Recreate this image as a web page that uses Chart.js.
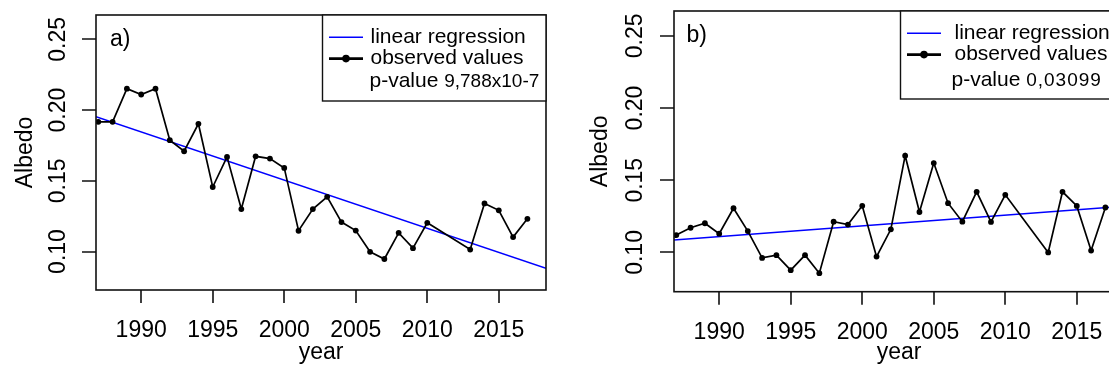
<!DOCTYPE html>
<html>
<head>
<meta charset="utf-8">
<title>Albedo</title>
<script src="https://cdn.jsdelivr.net/npm/chart.js@4.4.0/dist/chart.umd.min.js"></script>
<style>
  html, body { margin: 0; padding: 0; background: #fff; overflow: hidden; width: 1109px; height: 372px; }
  .pannello { position: absolute; top: 0; }
  #pannelloA { left: 0; }
  #pannelloB { left: 578px; }
  canvas { display: block; }
</style>
</head>
<body>
<div class="pannello" id="pannelloA"><canvas id="graficoA" width="560" height="372"></canvas></div>
<div class="pannello" id="pannelloB"><canvas id="graficoB" width="560" height="372"></canvas></div>
<script>
// anni osservati (2011 e 2012 mancano)
var anni = [1987, 1988, 1989, 1990, 1991, 1992, 1993, 1994, 1995, 1996,
  1997, 1998, 1999, 2000, 2001, 2002, 2003, 2004, 2005, 2006,
  2007, 2008, 2009, 2010, 2013, 2014, 2015, 2016, 2017];

var albedoA = [0.1917, 0.1917, 0.2151, 0.2110, 0.2151, 0.1787, 0.1709, 0.1903, 0.1456, 0.1669,
  0.1300, 0.1673, 0.1657, 0.1591, 0.1147, 0.1300, 0.1387, 0.1208, 0.1148, 0.0998,
  0.0947, 0.1132, 0.1024, 0.1203, 0.1014, 0.1340, 0.1291, 0.1102, 0.1231];

var albedoB = [0.1120, 0.1171, 0.1202, 0.1130, 0.1306, 0.1148, 0.0962, 0.0981, 0.0877, 0.0981,
  0.0856, 0.1213, 0.1193, 0.1323, 0.0971, 0.1160, 0.1670, 0.1280, 0.1619, 0.1341,
  0.1213, 0.1420, 0.1211, 0.1399, 0.1000, 0.1420, 0.1322, 0.1013, 0.1311];

// retta di regressione letta agli estremi dell'asse
var anniRegressione = [1986.84, 2018.3];
var regressioneA = [0.1953, 0.0882];
var regressioneB = [0.1086, 0.1320];

var tickAnni = [1990, 1995, 2000, 2005, 2010, 2015];
var tickAlbedo = [0.10, 0.15, 0.20, 0.25];
var limitiAlbedo = [0.0728, 0.2672];

var etichetteLegenda = ['linear regression', 'observed values'];
var etichettaP = 'p-value';
var pValueA = '9,788x10-7';
var pValueB = '0,03099';

var FONT = '"Liberation Sans", Arial, Helvetica, sans-serif';
Chart.defaults.font.family = FONT;
Chart.defaults.color = '#000';

// cornice, tacche, etichette ruotate dell'asse y, lettera del pannello e legenda
var cornice = {
  id: 'cornice',
  afterDraw: function(chart, args, opts) {
    var ctx = chart.ctx;
    var area = chart.chartArea;
    var scalaX = chart.scales.x;
    var scalaY = chart.scales.y;
    ctx.save();
    ctx.strokeStyle = '#111';
    ctx.lineWidth = 1.6;
    ctx.strokeRect(area.left, area.top, area.right - area.left, area.bottom - area.top);

    ctx.beginPath();
    scalaX.ticks.forEach(function(t) {
      var px = Math.round(scalaX.getPixelForValue(t.value));
      ctx.moveTo(px, area.bottom);
      ctx.lineTo(px, area.bottom + 13);
    });
    scalaY.ticks.forEach(function(t) {
      var py = Math.round(scalaY.getPixelForValue(t.value));
      ctx.moveTo(area.left, py);
      ctx.lineTo(area.left - 14, py);
    });
    ctx.stroke();

    ctx.fillStyle = '#000';
    ctx.font = '23px ' + FONT;
    ctx.textAlign = 'center';
    ctx.textBaseline = 'alphabetic';
    scalaY.ticks.forEach(function(t) {
      var py = scalaY.getPixelForValue(t.value);
      ctx.save();
      ctx.translate(opts.xEtichetteY, py);
      ctx.rotate(-Math.PI / 2);
      ctx.fillText(t.value.toFixed(2), 0, 0);
      ctx.restore();
    });

    ctx.textAlign = 'left';
    ctx.fillText(opts.lettera, area.left + opts.letteraX, area.top + 30.5);

    // legenda
    var lx = area.right - 223.5;
    var ly = area.top;
    ctx.fillStyle = '#fff';
    ctx.fillRect(lx, ly, area.right - lx, opts.altezzaLegenda);
    ctx.strokeStyle = '#111';
    ctx.lineWidth = 1.4;
    ctx.strokeRect(lx, ly, area.right - lx, opts.altezzaLegenda);

    ctx.strokeStyle = 'blue';
    ctx.lineWidth = 1.5;
    ctx.beginPath();
    ctx.moveTo(lx + 6.5, ly + 22.3);
    ctx.lineTo(lx + 40.5, ly + 22.3);
    ctx.stroke();

    ctx.strokeStyle = '#000';
    ctx.lineWidth = 2.8;
    ctx.beginPath();
    ctx.moveTo(lx + 6.5, ly + 43.6);
    ctx.lineTo(lx + 40.5, ly + 43.6);
    ctx.stroke();
    ctx.fillStyle = '#000';
    ctx.beginPath();
    ctx.arc(lx + 23.5, ly + 43.6, 3.8, 0, Math.PI * 2);
    ctx.fill();

    ctx.font = '21px ' + FONT;
    ctx.textBaseline = 'middle';
    ctx.fillText(etichetteLegenda[0], lx + opts.testoX, ly + 22.3);
    ctx.fillText(etichetteLegenda[1], lx + opts.testoX, ly + 43.6);

    ctx.textBaseline = 'alphabetic';
    ctx.fillText(etichettaP, lx + opts.pX, ly + opts.pY);
    var largP = ctx.measureText(etichettaP + ' ').width;
    ctx.font = '19px ' + FONT;
    ctx.letterSpacing = opts.spaziatura;
    ctx.fillText(opts.pValue, lx + opts.pX + largP, ly + opts.pY);
    ctx.restore();
  }
};

function getPunti(xs, ys) {
  var punti = [];
  for (var i = 0; i < xs.length; i++) {
    punti.push({x: xs[i], y: ys[i]});
  }
  return punti;
}

function printGrafico(idCanvas, valori, regressione, conf) {
  var ctx = document.getElementById(idCanvas).getContext('2d');
  var chart = new Chart(ctx, {
    type: 'line',
    data: {
      datasets: [{
        label: etichetteLegenda[1],
        data: getPunti(anni, valori),
        borderColor: '#000',
        backgroundColor: '#000',
        borderWidth: 1.7,
        pointRadius: 2.9,
        pointBorderWidth: 0,
        pointBackgroundColor: '#000',
        tension: 0,
        order: 1
      }, {
        label: etichetteLegenda[0],
        data: getPunti(anniRegressione, regressione),
        borderColor: 'blue',
        borderWidth: 1.5,
        pointRadius: 0,
        tension: 0,
        order: 2
      }]
    },
    options: {
      responsive: false,
      animation: false,
      events: [],
      layout: { padding: { left: 0, right: 14, top: conf.top, bottom: 0 } },
      plugins: {
        legend: { display: false },
        tooltip: { enabled: false },
        cornice: conf
      },
      scales: {
        x: {
          type: 'linear',
          min: anniRegressione[0],
          max: anniRegressione[1],
          afterBuildTicks: function(s) {
            s.ticks = tickAnni.map(function(v) { return {value: v}; });
          },
          afterFit: function(s) { s.height = conf.altezzaAsseX; },
          ticks: {
            font: { size: 23 },
            color: '#000',
            padding: 14,
            maxRotation: 0,
            autoSkip: false,
            callback: function(v) { return String(v); }
          },
          grid: { drawOnChartArea: false, drawTicks: true, tickLength: 13, color: 'rgba(0,0,0,0)' },
          border: { display: false },
          title: { display: true, text: 'year', font: { size: 23 }, color: '#000', padding: { top: 0, bottom: 6 } }
        },
        y: {
          min: limitiAlbedo[0],
          max: limitiAlbedo[1],
          afterBuildTicks: function(s) {
            s.ticks = tickAlbedo.map(function(v) { return {value: v}; });
          },
          afterFit: function(s) { s.width = 96; },
          ticks: { display: false },
          grid: { drawOnChartArea: false, drawTicks: true, tickLength: 14, color: 'rgba(0,0,0,0)' },
          border: { display: false },
          title: { display: true, text: 'Albedo', font: { size: 23 }, color: '#000', padding: { top: conf.titoloY, bottom: 0 } }
        }
      }
    },
    plugins: [cornice]
  });
  return chart;
}

printGrafico('graficoA', albedoA, regressioneA, {
  top: 15, altezzaAsseX: 82, titoloY: 11.5, xEtichetteY: 65, lettera: 'a)', letteraX: 14,
  altezzaLegenda: 86, testoX: 48, pX: 47, pY: 71.5, pValue: pValueA, spaziatura: '0px'
});
printGrafico('graficoB', albedoB, regressioneB, {
  top: 11, altezzaAsseX: 80.3, titoloY: 8.5, xEtichetteY: 64, lettera: 'b)', letteraX: 12.5,
  altezzaLegenda: 88, testoX: 54, pX: 51, pY: 75, pValue: pValueB, spaziatura: '1px'
});
</script>
</body>
</html>
